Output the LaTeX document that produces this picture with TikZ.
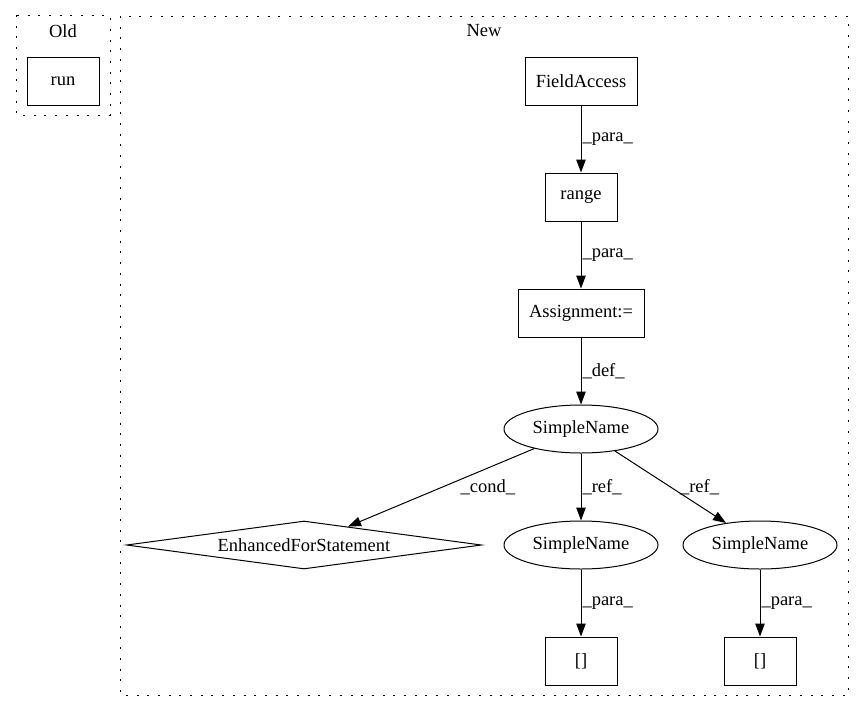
\documentclass[tikz,border=0pt]{standalone}
\usepackage{fontspec}
\setmainfont{Liberation Serif}
\usetikzlibrary{shapes,arrows}
\usetikzlibrary{arrows.meta}
\usetikzlibrary{shapes.geometric}
\begin{document}
\begin{tikzpicture}[x=1pt, y=-1pt,
    font=\fontsize{18.5}{22}\selectfont,
    box/.style={draw, line width=1pt, rectangle, minimum height=48pt, inner sep=0pt},
    oval/.style={draw, line width=1pt, ellipse, minimum width=154pt, minimum height=48pt, inner sep=0pt},
    choice/.style={draw, line width=1pt, diamond, aspect=7.4, minimum width=355pt, minimum height=48pt, inner sep=0pt},
    cluster/.style={draw, line width=1pt, dash pattern=on 2pt off 8.7pt},
    lab/.style={anchor=west, inner sep=1pt},
    every edge/.style={draw, line width=1pt, -{Triangle[length=13pt, width=9.5pt]}}]

      \useasboundingbox (0,0) rectangle (864,712);

      % clusters
      \draw[cluster] (16,15) rectangle (110,115);
      \node (oldlabel) at (63,31) {Old};
      \draw[cluster] (120,16) rectangle (848,695);
      \node (newlabel) at (484,31) {New};

      \node[box, minimum width=72pt] (run) at (63,81) {run};

      \node[box, minimum width=112pt] (fieldaccess) at (581,81) {FieldAccess};
      \node[box, minimum width=72pt] (range) at (581,197) {range};
      \node[box, minimum width=126pt] (assign) at (581,313) {Assignment:=};
      \node[oval] (name) at (581,429) {SimpleName};
      \node[choice] (forstmt) at (304,545) {EnhancedForStatement};
      \node[oval] (nameleft) at (581,545) {SimpleName};
      \node[oval] (nameright) at (760,545) {SimpleName};
      \node[box, minimum width=72pt] (arrleft) at (581,661) {[]};
      \node[box, minimum width=72pt] (arrright) at (760,661) {[]};

      \path (fieldaccess) edge node [lab] {\_para\_} (range)
            (range) edge node [lab] {\_para\_} (assign)
            (assign) edge node [lab] {\_def\_} (name)
            (name) edge node [lab, pos=0.5, xshift=18pt] {\_cond\_} (forstmt)
            (name) edge node [lab] {\_ref\_} (nameleft)
            (name) edge node [lab, pos=0.5, xshift=8pt] {\_ref\_} (nameright)
            (nameleft) edge node [lab] {\_para\_} (arrleft)
            (nameright) edge node [lab] {\_para\_} (arrright);
      \end{tikzpicture}
\end{document}
